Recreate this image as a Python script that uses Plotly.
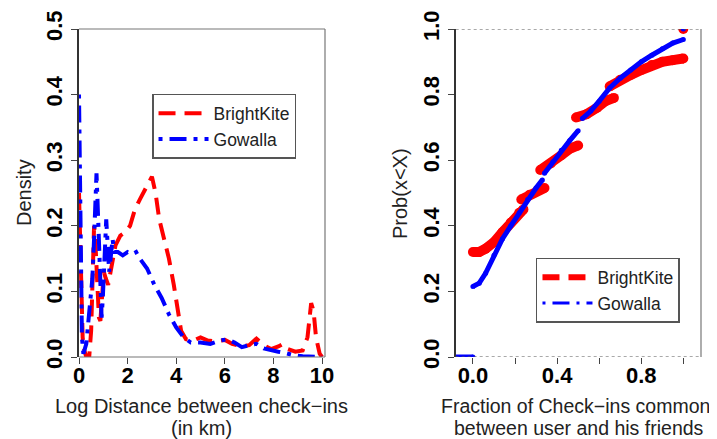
import plotly.graph_objects as go

# ---------------- Left panel: density of log distance ----------------
bk_x = [0, 0.03, 0.06, 0.1, 0.15, 0.22, 0.3, 0.42, 0.5, 0.56, 0.62, 0.68, 0.75, 0.82, 0.88, 0.95,
        1.02, 1.1, 1.2, 1.3, 1.4, 1.5, 1.7, 1.9, 2.1, 2.3, 2.5, 2.7, 2.9, 3.0, 3.15, 3.3, 3.5,
        3.7, 3.9, 4.05, 4.2, 4.4, 4.7, 5.0, 5.3, 5.7, 6.0, 6.3, 6.7, 7.0, 7.3, 7.6, 7.9, 8.2,
        8.4, 8.6, 8.9, 9.2, 9.4, 9.55, 9.65, 9.75, 9.9, 10.0]
bk_y = [0.25, 0.20, 0.12, 0.06, 0.03, 0.01, 0.0, 0.0, 0.04, 0.12, 0.20, 0.17, 0.11, 0.06, 0.055, 0.09,
        0.13, 0.12, 0.11, 0.13, 0.15, 0.17, 0.185, 0.19, 0.20, 0.225, 0.24, 0.255, 0.27, 0.275, 0.25, 0.21, 0.18,
        0.15, 0.11, 0.07, 0.04, 0.027, 0.025, 0.03, 0.025, 0.024, 0.026, 0.02, 0.016, 0.018, 0.028, 0.018, 0.012, 0.016,
        0.02, 0.012, 0.008, 0.01, 0.03, 0.082, 0.07, 0.03, 0.005, 0.0]

gw_x = [0, 0.03, 0.05, 0.08, 0.12, 0.18, 0.3, 0.45, 0.55, 0.62, 0.68, 0.72, 0.76, 0.82, 0.88, 0.93,
        0.98, 1.05, 1.12, 1.18, 1.24, 1.3, 1.38, 1.45, 1.6, 1.8, 2.0, 2.2, 2.35, 2.5, 2.8, 3.1,
        3.4, 3.7, 4.0, 4.3, 4.6, 5.0, 5.4, 5.8, 6.1, 6.4, 6.7, 7.0, 7.3, 7.6, 7.9, 8.2, 8.5,
        8.8, 9.2, 9.6, 10.0]
gw_y = [0.40, 0.30, 0.20, 0.08, 0.03, 0.005, 0.02, 0.08, 0.12, 0.18, 0.25, 0.28, 0.24, 0.18, 0.10, 0.06,
        0.09, 0.15, 0.21, 0.17, 0.13, 0.15, 0.18, 0.16, 0.16, 0.155, 0.16, 0.157, 0.16, 0.15, 0.135, 0.11,
        0.09, 0.065, 0.045, 0.03, 0.022, 0.022, 0.02, 0.025, 0.027, 0.022, 0.015, 0.018, 0.02, 0.013, 0.01, 0.008, 0.006,
        0.003, 0.001, 0.0, 0.0]

# ---------------- Right panel: ECDF of common check-in fraction ----------------
bk_cdf_x = [[0.0, 0.03, 0.06, 0.1, 0.14, 0.18, 0.22, 0.24],
            [0.23, 0.27, 0.31, 0.34],
            [0.32, 0.37, 0.42, 0.46, 0.5],
            [0.49, 0.54, 0.59, 0.63, 0.67],
            [0.65, 0.7, 0.75, 0.8, 0.85, 0.9, 0.95, 1.0],
            [1.0]]
bk_cdf_y = [[0.32, 0.32, 0.33, 0.35, 0.38, 0.41, 0.44, 0.45],
            [0.48, 0.495, 0.51, 0.515],
            [0.57, 0.59, 0.615, 0.635, 0.645],
            [0.73, 0.74, 0.76, 0.78, 0.79],
            [0.825, 0.845, 0.86, 0.875, 0.89, 0.90, 0.905, 0.91],
            [1.0]]
gw_cdf_x = [[-0.1, 0.0],
            [0.0, 0.03, 0.06, 0.1, 0.14, 0.18, 0.22, 0.26, 0.3, 0.33],
            [0.34, 0.38, 0.42, 0.46, 0.5],
            [0.52, 0.56, 0.6, 0.65, 0.7, 0.75, 0.8, 0.85, 0.9, 0.95, 1.0],
            [1.0]]
gw_cdf_y = [[0.0, 0.0],
            [0.215, 0.225, 0.255, 0.31, 0.36, 0.40, 0.44, 0.48, 0.515, 0.54],
            [0.56, 0.595, 0.63, 0.66, 0.69],
            [0.727, 0.75, 0.78, 0.82, 0.85, 0.875, 0.90, 0.92, 0.94, 0.957, 0.968],
            [1.0]]

names = ["BrightKite", "Gowalla"]
left_ticks = [0, 2, 4, 6, 8, 10]
y_left_ticks = [0, 0.1, 0.2, 0.3, 0.4, 0.5]
right_xticks = [0, 0.2, 0.4, 0.6, 0.8, 1.0]
right_xticktext = ["0.0", "", "0.4", "", "0.8", ""]
right_yticks = [0, 0.2, 0.4, 0.6, 0.8, 1.0]

RED = "#ff0000"
BLUE = "#0000ff"
FONT = "Liberation Sans"


def join(segs):
    out = []
    for i, s in enumerate(segs):
        if i:
            out.append(None)
        out.extend(s)
    return out


fig = go.Figure()
fig.add_trace(go.Scatter(x=bk_x, y=bk_y, mode="lines", name=names[0],
                         line=dict(color=RED, width=4, dash="17px,9px"),
                         xaxis="x", yaxis="y", legend="legend"))
fig.add_trace(go.Scatter(x=gw_x, y=gw_y, mode="lines", name=names[1],
                         line=dict(color=BLUE, width=4, dash="4px,7px,17px,7px"),
                         xaxis="x", yaxis="y", legend="legend"))

fig.add_trace(go.Scatter(x=join(bk_cdf_x), y=join(bk_cdf_y), mode="lines+markers",
                         line=dict(color=RED, width=10), marker=dict(color=RED, size=10),
                         showlegend=False, xaxis="x2", yaxis="y2", cliponaxis=True))
fig.add_trace(go.Scatter(x=join(gw_cdf_x), y=join(gw_cdf_y), mode="lines+markers",
                         line=dict(color=BLUE, width=5), marker=dict(color=BLUE, size=5),
                         showlegend=False, xaxis="x2", yaxis="y2", cliponaxis=True))
# legend entries for right panel
fig.add_trace(go.Scatter(x=[None], y=[None], mode="lines", name=names[0],
                         line=dict(color=RED, width=6, dash="17px,9px"),
                         xaxis="x2", yaxis="y2", legend="legend2"))
fig.add_trace(go.Scatter(x=[None], y=[None], mode="lines", name=names[1],
                         line=dict(color=BLUE, width=3, dash="3px,7px,17px,7px"),
                         xaxis="x2", yaxis="y2", legend="legend2"))

tickfont = dict(family=FONT, size=22, color="black", weight="bold")
common_axis = dict(showgrid=False, zeroline=False, ticks="outside", tickcolor="#444",
                   tickfont=tickfont, ticklen=6, automargin=False)

fig.update_layout(
    width=717, height=439,
    margin=dict(l=71, r=24, t=21, b=90, autoexpand=False),
    plot_bgcolor="white", paper_bgcolor="white",
    font=dict(family=FONT, color="black"),
    xaxis=dict(domain=[0, 0.3955], range=[0, 10.12], tickvals=left_ticks,
               ticktext=[str(t) for t in left_ticks], showline=False,
               ticklabelstandoff=-7, **common_axis),
    yaxis=dict(domain=[0, 1], range=[0, 0.5], tickvals=y_left_ticks,
               ticktext=["%.1f" % t for t in y_left_ticks], tickangle=-90,
               showline=True, linecolor="#333", linewidth=1.5, anchor="x", **common_axis),
    xaxis2=dict(domain=[0.6056, 1], range=[-0.082, 1.084], tickvals=right_xticks,
                ticktext=right_xticktext, anchor="y2", showline=False,
                ticklabelstandoff=-7, **common_axis),
    yaxis2=dict(domain=[0, 1], range=[0, 1], tickvals=right_yticks,
                ticktext=["%.1f" % t for t in right_yticks], tickangle=-90, anchor="x2",
                showline=True, linecolor="#333", linewidth=1.5, **common_axis),
    legend=dict(x=0.1174, y=0.802, xanchor="left", yanchor="top",
                bgcolor="white", bordercolor="#555", borderwidth=1.5,
                font=dict(family=FONT, size=17.5, color="#222"), itemwidth=50,
                tracegroupgap=0),
    legend2=dict(x=0.7347, y=0.302, xanchor="left", yanchor="top",
                 bgcolor="white", bordercolor="#555", borderwidth=1.5,
                 font=dict(family=FONT, size=17.5, color="#222"), itemwidth=50),
    showlegend=True,
)

# frames
frame = dict(color="#777", width=1.2)
fig.add_shape(type="line", xref="x domain", yref="y domain", x0=0, x1=1, y0=1, y1=1, line=frame)
fig.add_shape(type="line", xref="x domain", yref="y domain", x0=1, x1=1, y0=0, y1=1, line=frame)
fig.add_shape(type="line", xref="x domain", yref="y domain", x0=0, x1=1, y0=0, y1=0, line=frame)
fig.add_shape(type="line", xref="x2 domain", yref="y2 domain", x0=1, x1=1, y0=0, y1=1, line=frame)
dotted = dict(color="#555", width=1.2, dash="dot")
fig.add_shape(type="line", xref="x2 domain", yref="y2", x0=0, x1=1, y0=0, y1=0, line=dotted)
fig.add_shape(type="line", xref="x2 domain", yref="y2", x0=0, x1=1, y0=1, y1=1, line=dotted)

# axis titles (positions relative to the plotting area)
tfont = dict(family=FONT, size=20, color="#222")
rfont = dict(family=FONT, size=19.5, color="#222")
ann = [
    dict(text="Density", x=-0.0884, y=0.5, textangle=-90, font=tfont),
    dict(text="Prob(x<X)", x=(400 - 79) / 622, y=0.5, textangle=-90, font=tfont),
    dict(text="Log Distance between check−ins", x=(201.7 - 79) / 622, y=-(406 - 357) / 328, font=tfont),
    dict(text="(in km)", x=(201.7 - 79) / 622, y=-(428 - 357) / 328, font=tfont),
    dict(text="Fraction of Check−ins common", x=(575 - 79) / 622, y=-(406 - 357) / 328, font=rfont),
    dict(text="between user and his friends", x=(579 - 79) / 622, y=-(428 - 357) / 328, font=rfont),
]
for a in ann:
    fig.add_annotation(xref="paper", yref="paper", xanchor="center", yanchor="middle",
                       showarrow=False, **a)

fig.write_html("out.html")
